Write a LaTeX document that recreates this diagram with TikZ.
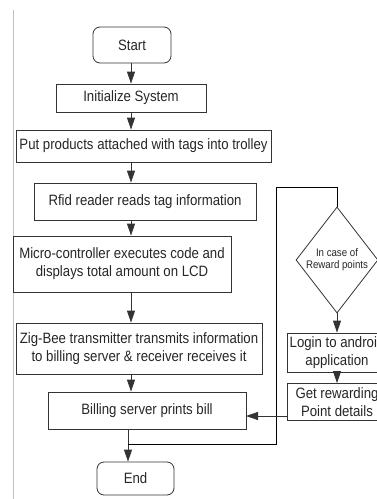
\documentclass[tikz,border=0pt]{standalone}
\usepackage{fontspec}
\setmainfont{Liberation Sans}[FakeStretch=0.88]
\usetikzlibrary{arrows.meta,shapes.geometric}
\tikzset{
  every node/.style={font=\fontsize{15}{18}\selectfont,text=black!85},
  startstop/.style={draw=black!80,rounded corners=7pt,inner sep=0pt},
  process/.style={draw=black!80,align=center,inner sep=0pt},
  decision/.style={draw=black!80,diamond,align=center,inner sep=-2pt,minimum width=82pt,minimum height=106pt,font=\fontsize{11}{12}\selectfont},
  arrow/.style={-{Triangle[length=12pt,width=8pt]},draw=black!80}
}
\begin{document}
\begin{tikzpicture}[x=1pt,y=-1pt,line width=0.8pt]
    \useasboundingbox (0,0) rectangle (377,499);
    \clip (0,0) rectangle (377,499);
    \draw[black!25,line width=0.6pt](13,10)--(13,499);
    \coordinate (axis) at (131,0);
    \node[startstop,minimum width=78pt,minimum height=36pt] (start) at (132,45) {Start};
    \node[process,minimum width=150pt,minimum height=28pt] (init) at (131,98) {Initialize System};
    \node[process,minimum width=255pt,minimum height=32pt] (put) at (143.5,146) {Put products attached with tags into trolley};
    \node[process,minimum width=222pt,minimum height=37pt] (rfid) at (145,201.5) {Rfid reader reads tag information};
    \node[process,minimum width=218pt,minimum height=56pt] (micro) at (122,264) {Micro-controller executes code and\\displays total amount on LCD};
    \node[process,minimum width=246pt,minimum height=51pt] (zig) at (139,348.5) {Zig-Bee transmitter transmits information\\to billing server \& receiver receives it};
    \node[process,minimum width=198pt,minimum height=37pt] (bill) at (147,410.5) {Billing server prints bill};
    \node[startstop,minimum width=77pt,minimum height=33pt] (end) at (135.5,478.5) {End};
    \node[decision] (cond) at (337,260) {In case of\\Reward points};
    \node[process,minimum width=100pt,minimum height=39pt] (login) at (337,352.5) {Login to android\\application};
    \node[process,minimum width=100pt,minimum height=37pt] (get) at (337,402) {Get rewarding\\Point details};
    \coordinate (join) at (128,444);
    \coordinate (looptop) at (276,187);
    \coordinate (billin) at (246,416);
    \draw[arrow](start.south -| axis)--(init.north -| axis);
    \draw[arrow](init.south -| axis)--(put.north -| axis);
    \draw[arrow](put.south -| axis)--(rfid.north -| axis);
    \draw[arrow](rfid.south -| axis)--(micro.north -| axis);
    \draw[arrow](micro.south -| axis)--(zig.north -| axis);
    \draw[arrow](zig.south -| axis)--(bill.north -| axis);
    \draw[arrow](bill.south -| join)--(end.north -| join);
    \draw (join)-|(looptop)-|(cond.north);
    \draw[arrow](cond.south)--(login.north);
    \draw[arrow](login.south)--(get.north);
    \draw[arrow](get.west |- billin)--(billin);
\end{tikzpicture}
\end{document}
